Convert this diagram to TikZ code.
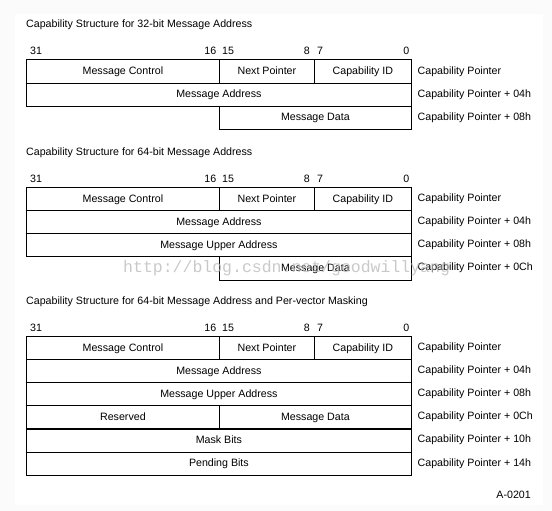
\documentclass[tikz,border=0pt]{standalone}
\usepackage{fontspec}
\setmainfont{Liberation Sans}
\newfontfamily\wmfont{Liberation Mono}
\definecolor{margingray}{HTML}{FBFBFB}
\definecolor{wmgray}{HTML}{B8B8B8}
\begin{document}
\begin{tikzpicture}[x=1pt,y=-1pt,
  txt/.style={font=\fontsize{10.65}{12}\selectfont, text height=7.6pt, text depth=1.6pt},
  cell/.style={txt, draw=black, line width=0.8pt, anchor=north west, inner sep=0pt, minimum height=23.2pt},
  wfull/.style={minimum width=385pt},
  wleft/.style={minimum width=193pt},
  wnext/.style={minimum width=95pt},
  wid/.style={minimum width=97pt},
  whalf/.style={minimum width=192pt},
  offs/.style={txt, anchor=west, inner sep=0pt},
  bitl/.style={txt, anchor=west, inner sep=0pt},
  bitr/.style={txt, anchor=east, inner sep=0pt},
  title/.style={txt, anchor=west, inner sep=0pt},
  watermark/.style={font=\wmfont\fontsize{16.5}{18}\selectfont, text=wmgray, opacity=0.75, inner sep=0pt, anchor=west}
]
\useasboundingbox (0,0) rectangle (552,511);
\fill[margingray] (0,0) rectangle (552,511);
\fill[white] (15,14) rectangle (543,505);

% ---------- Table 1 ----------
\node[title] (t1) at (26,25) {Capability Structure for 32-bit Message Address};
\node[bitl] (a31) at (30,52) {31};
\node[bitr] (a16) at (216.5,52) {16};
\node[bitl] (a15) at (222,52) {15};
\node[bitr] (a8) at (310,52) {8};
\node[bitl] (a7) at (317,52) {7};
\node[bitr] (a0) at (409.5,52) {0};
\node[cell,wleft] (a1) at (26,59.5) {Message Control};
\node[cell,wnext] (a2) at (219,59.5) {Next Pointer};
\node[cell,wid] (a3) at (314,59.5) {Capability ID};
\node[cell,wfull] (a4) at (26,82.7) {Message Address};
\node[cell,whalf] (a5) at (219,105.9) {Message Data};
\node[offs] (ao0) at (417.5,71.1) {Capability Pointer};
\node[offs] (ao1) at (417.5,94.3) {Capability Pointer + 04h};
\node[offs] (ao2) at (417.5,117.5) {Capability Pointer + 08h};

% ---------- Table 2 ----------
\node[title] (t2) at (26,152.7) {Capability Structure for 64-bit Message Address};
\node[bitl] (b31) at (30,179.3) {31};
\node[bitr] (b16) at (216.5,179.3) {16};
\node[bitl] (b15) at (222,179.3) {15};
\node[bitr] (b8) at (310,179.3) {8};
\node[bitl] (b7) at (317,179.3) {7};
\node[bitr] (b0) at (409.5,179.3) {0};
\node[cell,wleft] (b1) at (26,187) {Message Control};
\node[cell,wnext] (b2) at (219,187) {Next Pointer};
\node[cell,wid] (b3) at (314,187) {Capability ID};
\node[cell,wfull] (b4) at (26,210.1) {Message Address};
\node[cell,wfull] (b5) at (26,233.2) {Message Upper Address};
\node[cell,whalf] (b6) at (219,256.3) {Message Data};
\node[offs] (bo0) at (417.5,198.5) {Capability Pointer};
\node[offs] (bo1) at (417.5,221.6) {Capability Pointer + 04h};
\node[offs] (bo2) at (417.5,244.7) {Capability Pointer + 08h};
\node[offs] (bo3) at (417.5,267.8) {Capability Pointer + 0Ch};
\node[watermark] (wm) at (123,268) {http://blog.csdn.net/goodwillyang};

% ---------- Table 3 ----------
\node[title] (t3) at (26,301.7) {Capability Structure for 64-bit Message Address and Per-vector Masking};
\node[bitl] (c31) at (30,328.3) {31};
\node[bitr] (c16) at (216.5,328.3) {16};
\node[bitl] (c15) at (222,328.3) {15};
\node[bitr] (c8) at (310,328.3) {8};
\node[bitl] (c7) at (317,328.3) {7};
\node[bitr] (c0) at (409.5,328.3) {0};
\node[cell,wleft] (c1) at (26,336) {Message Control};
\node[cell,wnext] (c2) at (219,336) {Next Pointer};
\node[cell,wid] (c3) at (314,336) {Capability ID};
\node[cell,wfull] (c4) at (26,359.1) {Message Address};
\node[cell,wfull] (c5) at (26,382.2) {Message Upper Address};
\node[cell,wleft] (c6) at (26,405.3) {Reserved};
\node[cell,whalf] (c7cell) at (219,405.3) {Message Data};
\node[cell,wfull] (c8cell) at (26,428.4) {Mask Bits};
\node[cell,wfull] (c9) at (26,451.5) {Pending Bits};
\node[offs] (co0) at (417.5,347.5) {Capability Pointer};
\node[offs] (co1) at (417.5,370.6) {Capability Pointer + 04h};
\node[offs] (co2) at (417.5,393.7) {Capability Pointer + 08h};
\node[offs] (co3) at (417.5,416.8) {Capability Pointer + 0Ch};
\node[offs] (co4) at (417.5,439.9) {Capability Pointer + 10h};
\node[offs] (co5) at (417.5,463.0) {Capability Pointer + 14h};

\node[txt, anchor=east, inner sep=0pt] (fig) at (531,495) {A-0201};
\end{tikzpicture}
\end{document}
